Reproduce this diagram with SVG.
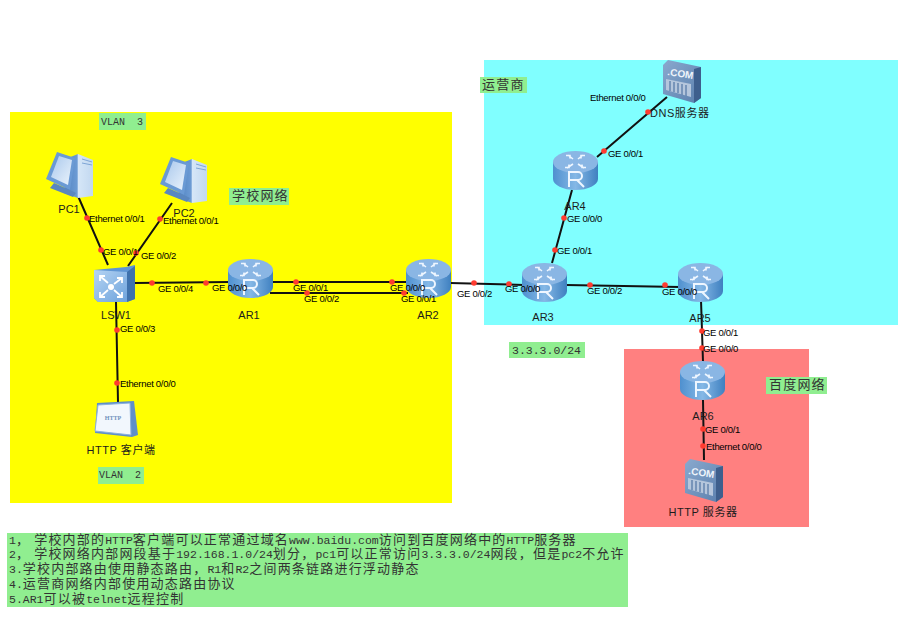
<svg xmlns="http://www.w3.org/2000/svg" width="898" height="629" viewBox="0 0 898 629">
<style>
text{font-family:"Liberation Sans","Noto Sans CJK SC",sans-serif;fill:#222}
.p{font-size:9.5px;letter-spacing:-.3px;fill:#000}
.n{font-size:11px;fill:#1c1c1c}
.w{letter-spacing:.55px}
.k{font-family:"Liberation Mono","Noto Sans CJK SC",monospace;font-size:11.5px;white-space:pre;fill:#333}
.v{font-size:10px}
.c{font-family:"Noto Sans CJK SC",sans-serif;font-size:13px;letter-spacing:1.2px}
.b{fill:#90ee90}
.l{stroke:#111;stroke-width:2;fill:none}
.d{fill:#ff3b30}
.com{font-family:"Liberation Sans",sans-serif;font-weight:700;font-size:10px;fill:#eef4fb}
</style>
<defs>
<linearGradient id="rg" x1="0" x2="1" y1="0" y2="0"><stop offset="0" stop-color="#4f90cf"/><stop offset=".5" stop-color="#85b8e6"/><stop offset="1" stop-color="#3f80c0"/></linearGradient>
<linearGradient id="sg" x1="0" x2="1" y1="0" y2="1"><stop offset="0" stop-color="#b5d4f3"/><stop offset="1" stop-color="#6ea3dc"/></linearGradient>
<linearGradient id="mg" x1="0" x2="1" y1="0" y2="1"><stop offset="0" stop-color="#8aa9ce"/><stop offset="1" stop-color="#5a7fad"/></linearGradient>
<linearGradient id="tg" x1="0" x2="1" y1="0" y2="0"><stop offset="0" stop-color="#4f82c0"/><stop offset=".45" stop-color="#6c9bd4"/><stop offset=".5" stop-color="#d5e6f7"/><stop offset="1" stop-color="#c2d8f0"/></linearGradient>
<linearGradient id="ps" x1="0" x2="1" y1="0" y2="1"><stop offset="0" stop-color="#a9c8ec"/><stop offset="1" stop-color="#eaf3fc"/></linearGradient>
<g id="router">
<path d="M0 11V28C0 34 10 39 22.500 39S45 34 45 28V11Z" fill="url(#rg)"/>
<ellipse cx="22.500" cy="11" rx="22.500" ry="11" fill="#8ab6e4"/>
<path d="M15 4l5 4M13 4.500h4v3M30 4l-5 4M32 4.500h-4v3M14 17l6-4M12 16.500h4v-3M31 17l-6-4M33 16.500h-4v-3" stroke="#eef6ff" stroke-width="1.600" fill="none"/>
<path d="M16 36V21h9a4 4 0 0 1 0 8H16M24 29l7 7" stroke="#eef6ff" stroke-width="2" fill="none"/>
</g>
<g id="pc">
<path d="M22 6L32 2 47 8V44L32 46 18 41Z" fill="url(#tg)"/>
<path d="M36 7L46 10M36 11L46 13" stroke="#7fa6d6" stroke-width="1"/>
<path d="M11 0L29 6 24 38 0 27Z" fill="#6a9ad4"/>
<path d="M13 4L26 8 22 33 5 25Z" fill="url(#ps)"/>
<path d="M8 31L24 38 30 41 27 45 4 36Z" fill="#5a87bf"/>
</g>
<g id="switch">
<path d="M0 5L32 2 41 0V34L33 37 4 37 0 33Z" fill="#5f96d4"/>
<path d="M0 5L33 7V37H4L0 33Z" fill="url(#sg)"/>
<path d="M33 7L41 1V34L33 37Z" fill="#3f72ad"/>
<path d="M6 11l8 7M28 13l-8 6M6 32l8-7M28 32l-8-7M6 16v-5h5M28 18v-5h-5M6 27v5h5M28 27v5h-5" stroke="#fff" stroke-width="1.800" fill="none"/>
<circle cx="17" cy="22" r="3" fill="#fff"/>
</g>
<g id="server">
<path d="M0 5L5 0 38 7V38L31 43 0 34Z" fill="url(#mg)"/>
<path d="M31 9L38 7V38L31 43Z" fill="#3e5f8d"/>
<path d="M3 19L28 24V37L3 30Z" fill="#b5c6dc"/>
<path d="M7 21V31M11 22V32M15 23V33M19 24V35M23 25V36" stroke="#6a89b2" stroke-width="1.600"/>
</g>
</defs>

<rect x="10" y="112" width="442" height="391" fill="#ffff00"/>
<rect x="484" y="60" width="414" height="265" fill="#80ffff"/>
<rect x="624" y="349" width="185" height="178" fill="#ff8080"/>

<g id="connectors">
<path class="l" d="M78 196L108 265M172 203L128 266M116 302L118 402M134 283L230 282M272 282H408M270 293H408M450 283L524 285M566 285L680 287M552 263L572 190M597 157L667 97M701 300L703 362M703 400L704 460"/>
<g class="d">
<circle cx="87" cy="218" r="2.800"/><circle cx="101" cy="250" r="2.800"/><circle cx="160" cy="219" r="2.800"/><circle cx="136" cy="253" r="2.800"/><circle cx="152" cy="283" r="2.800"/><circle cx="206" cy="283" r="2.800"/><circle cx="296" cy="282" r="2.800"/><circle cx="307" cy="293" r="2.800"/><circle cx="392" cy="282" r="2.800"/><circle cx="404" cy="293" r="2.800"/><circle cx="474" cy="283" r="2.800"/><circle cx="509" cy="284" r="2.800"/><circle cx="590" cy="285" r="2.800"/><circle cx="665" cy="285" r="2.800"/><circle cx="702" cy="331" r="2.800"/><circle cx="702" cy="348" r="2.800"/><circle cx="555" cy="250" r="2.800"/><circle cx="564" cy="218" r="2.800"/><circle cx="604" cy="151" r="2.800"/><circle cx="648" cy="112" r="2.800"/><circle cx="703" cy="429" r="2.800"/><circle cx="703" cy="446" r="2.800"/><circle cx="117" cy="330" r="2.800"/><circle cx="117" cy="383" r="2.800"/>
</g>
</g>

<g id="PC1"><use href="#pc" x="46" y="152"/><text class="n" x="69" y="213" text-anchor="middle">PC1</text></g>
<g id="PC2"><use href="#pc" x="160" y="157"/><text class="n" x="184" y="217" text-anchor="middle">PC2</text></g>
<g id="LSW1"><use href="#switch" x="94" y="265"/><text class="n" x="116" y="319" text-anchor="middle">LSW1</text></g>
<g id="AR1"><use href="#router" x="228" y="259"/><text class="n" x="249" y="319" text-anchor="middle">AR1</text></g>
<g id="AR2"><use href="#router" x="406" y="259"/><text class="n" x="428" y="319" text-anchor="middle">AR2</text></g>
<g id="AR3"><use href="#router" x="522" y="263"/><text class="n" x="543" y="321" text-anchor="middle">AR3</text></g>
<g id="AR4"><use href="#router" x="553" y="151"/><text class="n" x="575" y="210" text-anchor="middle">AR4</text></g>
<g id="AR5"><use href="#router" x="678" y="263"/><text class="n" x="700" y="322" text-anchor="middle">AR5</text></g>
<g id="AR6"><use href="#router" x="680" y="361"/><text class="n" x="703" y="420" text-anchor="middle">AR6</text></g>
<g id="HTTP-client">
<path d="M97 403L134 401 138 435 132 437 95 433Z" fill="#5f8fc9"/>
<path d="M98 405L130 403 131 435 95 431Z" fill="#f2f7fd" stroke="#8ab0de"/>
<text x="113" y="420" text-anchor="middle" style="font-family:'Liberation Serif',serif;font-size:6px;font-weight:700;fill:#6d8fbc">HTTP</text>
<text class="n w" x="121" y="454" text-anchor="middle">HTTP 客户端</text>
</g>
<g id="DNS-server"><use href="#server" x="663" y="60"/><text class="com" x="667" y="75" transform="rotate(9 667 75)">.COM</text><text class="n w" x="650" y="117">DNS服务器</text></g>
<g id="HTTP-server"><use href="#server" x="685" y="459"/><text class="com" x="688" y="474" transform="rotate(9 688 474)">.COM</text><text class="n w" x="703" y="516" text-anchor="middle">HTTP 服务器</text></g>

<g id="port-labels">
<text class="p" x="89" y="222">Ethernet 0/0/1</text>
<text class="p" x="163" y="224">Ethernet 0/0/1</text>
<text class="p" x="103" y="255">GE 0/0/1</text>
<text class="p" x="141" y="259">GE 0/0/2</text>
<text class="p" x="158" y="292">GE 0/0/4</text>
<text class="p" x="212" y="291">GE 0/0/0</text>
<text class="p" x="293" y="291">GE 0/0/1</text>
<text class="p" x="304" y="302">GE 0/0/2</text>
<text class="p" x="390" y="291">GE 0/0/0</text>
<text class="p" x="401" y="302">GE 0/0/1</text>
<text class="p" x="457" y="297">GE 0/0/2</text>
<text class="p" x="505" y="292">GE 0/0/0</text>
<text class="p" x="587" y="294">GE 0/0/2</text>
<text class="p" x="662" y="295">GE 0/0/0</text>
<text class="p" x="703" y="336">GE 0/0/1</text>
<text class="p" x="703" y="352">GE 0/0/0</text>
<text class="p" x="557" y="254">GE 0/0/1</text>
<text class="p" x="567" y="222">GE 0/0/0</text>
<text class="p" x="608" y="157">GE 0/0/1</text>
<text class="p" x="590" y="101">Ethernet 0/0/0</text>
<text class="p" x="705" y="433">GE 0/0/1</text>
<text class="p" x="706" y="450">Ethernet 0/0/0</text>
<text class="p" x="120" y="332">GE 0/0/3</text>
<text class="p" x="120" y="387">Ethernet 0/0/0</text>
</g>

<g id="notes">
<rect class="b" x="99" y="113" width="47" height="17"/><text class="k v" x="101" y="125">VLAN  3</text>
<rect class="b" x="98" y="467" width="46" height="17"/><text class="k v" x="99" y="478">VLAN  2</text>
<rect class="b" x="229" y="188" width="60" height="17"/><text class="k" x="232" y="200"><tspan class="c">学校网络</tspan></text>
<rect class="b" x="480" y="77" width="47" height="16"/><text class="k" x="482" y="89"><tspan class="c">运营商</tspan></text>
<rect class="b" x="509" y="342" width="76" height="16"/><text class="k" x="512" y="354">3.3.3.0/24</text>
<rect class="b" x="766" y="377" width="61" height="17"/><text class="k" x="769" y="389"><tspan class="c">百度网络</tspan></text>
<rect class="b" x="7" y="533" width="621" height="74"/>
<text class="k" x="9" y="544">1<tspan class="c">， 学校内部的</tspan>HTTP<tspan class="c">客户端可以正常通过域名</tspan>www.baidu.com<tspan class="c">访问到百度网络中的</tspan>HTTP<tspan class="c">服务器</tspan></text>
<text class="k" x="9" y="558">2<tspan class="c">， 学校网络内部网段基于</tspan>192.168.1.0/24<tspan class="c">划分，</tspan>pc1<tspan class="c">可以正常访问</tspan>3.3.3.0/24<tspan class="c">网段，但是</tspan>pc2<tspan class="c">不允许</tspan></text>
<text class="k" x="9" y="573">3.<tspan class="c">学校内部路由使用静态路由，</tspan>R1<tspan class="c">和</tspan>R2<tspan class="c">之间两条链路进行浮动静态</tspan></text>
<text class="k" x="9" y="588">4.<tspan class="c">运营商网络内部使用动态路由协议</tspan></text>
<text class="k" x="9" y="603">5.AR1<tspan class="c">可以被</tspan>telnet<tspan class="c">远程控制</tspan></text>
</g>
</svg>
